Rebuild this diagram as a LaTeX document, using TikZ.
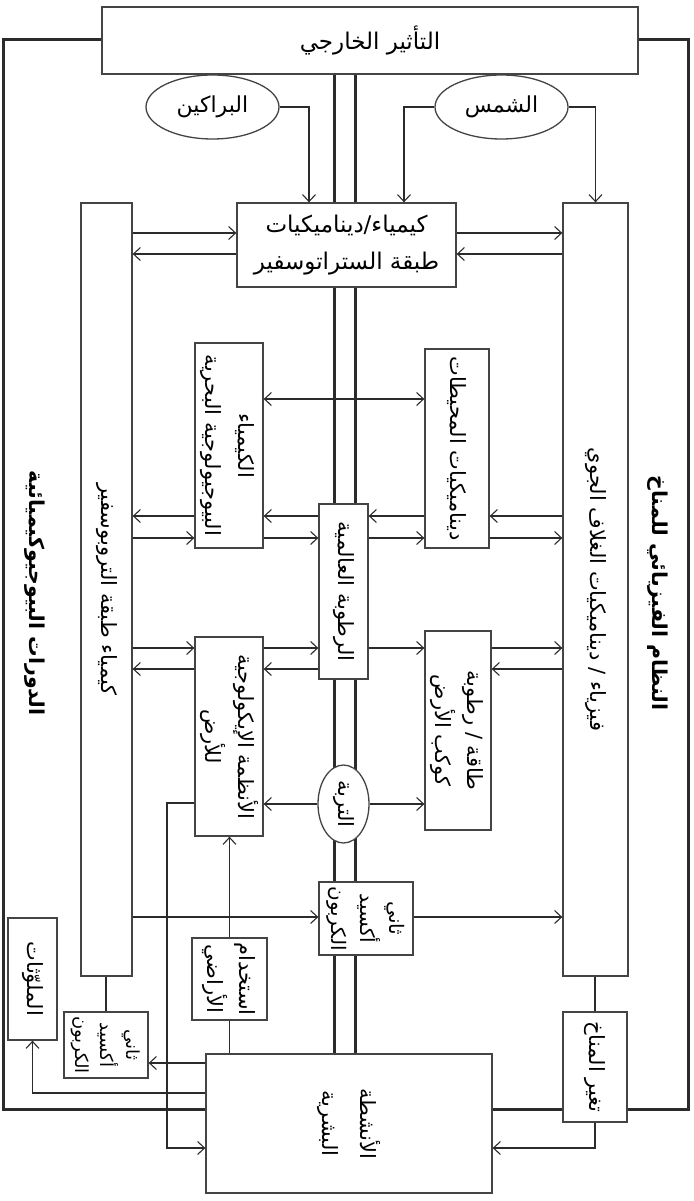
\documentclass[tikz,border=0pt]{standalone}
\usepackage{fontspec}
\usepackage{graphicx}
\usetikzlibrary{arrows.meta,shapes.geometric,backgrounds}
\TeXXeTstate=1
\newfontfamily\arabicfont[Script=Arabic]{DejaVu Sans}
\newcommand{\artxt}[1]{{\arabicfont\beginR #1\endR}}
\newcommand{\vtxt}[1]{\rotatebox{-90}{\begin{tabular}{@{}c@{}}#1\end{tabular}}}
\newcommand{\vone}[1]{\rotatebox{-90}{#1}}
\definecolor{ink}{HTML}{2B2B2B}
\definecolor{boxline}{HTML}{444444}
\tikzset{
  box/.style={draw=boxline, fill=white, line width=1.3pt, inner sep=0pt, rectangle, font=\fontsize{21}{33}\selectfont},
  oval/.style={box, ellipse},
  conn/.style={draw=ink, line width=1.1pt},
  arr/.style={conn, -{Straight Barb[length=7pt,width=13pt]}},
  arrr/.style={conn, {Straight Barb[length=7pt,width=13pt]}-{Straight Barb[length=7pt,width=13pt]}},
  thickln/.style={draw=ink, line width=3pt},
  sidelbl/.style={inner sep=0pt, font=\fontsize{20.5}{24}\selectfont\bfseries},
}
\begin{document}
\begin{tikzpicture}[x=1pt,y=-1pt]
\useasboundingbox (0,0) rectangle (693,1201);
% helper coordinates
\coordinate (cA) at (309,0);
\coordinate (cB) at (404,0);
\coordinate (cX) at (167,0);
\coordinate (cP) at (334,0);
\coordinate (cQ) at (355,0);
\coordinate (r233) at (0,233);
\coordinate (r254) at (0,254);
\coordinate (r399) at (0,399);
\coordinate (r516) at (0,516);
\coordinate (r538) at (0,538);
\coordinate (r648) at (0,648);
\coordinate (r669) at (0,669);
\coordinate (r803) at (0,803);
\coordinate (r917) at (0,917);
\coordinate (r1063) at (0,1063);
\coordinate (r1093) at (0,1093);
\coordinate (r1148) at (0,1148);

% nodes
\node[box, minimum width=536pt, minimum height=67pt, font=\fontsize{23}{30}\selectfont] (ext) at (370,40.5) {\artxt{التأثير الخارجي}};
\node[oval, minimum width=133pt, minimum height=64pt, font=\fontsize{22}{30}\selectfont] (volc) at (212.5,107) {\artxt{البراكين}};
\node[oval, minimum width=133pt, minimum height=64pt, font=\fontsize{22}{30}\selectfont] (sun) at (501.5,107) {\artxt{الشمس}};
\node[box, minimum width=219pt, minimum height=84pt, align=center, font=\fontsize{23}{37}\selectfont] (strat) at (346.5,245) {\artxt{كيمياء/ديناميكيات}\\\artxt{طبقة الستراتوسفير}};
\node[box, minimum width=51pt, minimum height=773pt] (tropo) at (106.5,589.5) {\vone{\artxt{كيمياء طبقة التروبوسفير}}};
\node[box, minimum width=65pt, minimum height=773pt] (atmos) at (595.5,589.5) {\vone{\artxt{فيزياء / ديناميكيات الغلاف الجوي}}};
\node[box, minimum width=68pt, minimum height=205pt] (bio) at (229,445.5) {\vtxt{\artxt{الكيمياء}\\\artxt{البيوجيولوجية البحرية}}};
\node[box, minimum width=64pt, minimum height=199pt] (ocean) at (457,448.5) {\vone{\artxt{ديناميكيات المحيطات}}};
\node[box, minimum width=49pt, minimum height=175pt] (humid) at (343.5,591.5) {\vone{\artxt{الرطوبة العالمية}}};
\node[box, minimum width=68pt, minimum height=199pt] (land) at (229,736.5) {\vtxt{\artxt{الأنظمة الإيكولوجية}\\\artxt{للأرض}}};
\node[box, minimum width=66pt, minimum height=199pt, font=\fontsize{21}{32}\selectfont] (energy) at (458,730.5) {\vtxt{\artxt{طاقة / رطوبة}\\\artxt{كوكب الأرض}}};
\node[oval, minimum width=51pt, minimum height=78pt] (soil) at (343.5,804) {\vone{\artxt{التربة}}};
\node[box, minimum width=94pt, minimum height=73pt, font=\fontsize{20}{29}\selectfont] (co2c) at (366,918.5) {\vtxt{\artxt{ثاني}\\\artxt{أكسيد}\\\artxt{الكربون}}};
\node[box, minimum width=75pt, minimum height=82pt, font=\fontsize{21}{32}\selectfont] (landuse) at (229.5,979) {\vtxt{\artxt{استخدام}\\\artxt{الأراضي}}};
\node[box, minimum width=84pt, minimum height=66pt, font=\fontsize{18}{25}\selectfont] (co2l) at (106,1045) {\vtxt{\artxt{ثاني}\\\artxt{أكسيد}\\\artxt{الكربون}}};
\node[box, minimum width=49pt, minimum height=122pt] (poll) at (32.5,979) {\vone{\artxt{الملوّثات}}};
\node[box, minimum width=286pt, minimum height=139pt, font=\fontsize{21}{38}\selectfont] (human) at (349,1123.5) {\vtxt{\artxt{الأنشطة}\\\artxt{البشرية}}};
\node[box, minimum width=64pt, minimum height=110pt] (climate) at (595,1067) {\vone{\artxt{تغير المناخ}}};
\node[sidelbl] (phys) at (658,593) {\vone{\artxt{النظام الفيزيائي للمناخ}}};
\node[sidelbl] (biog) at (35,593) {\vone{\artxt{الدورات البيوجيوكيميائية}}};

% frame and central double line
\begin{scope}[on background layer]
\draw[thickln] (3,40) rectangle (688,1109);
\draw[thickln] (cP |- ext.south) -- (cP |- human.north);
\draw[thickln] (cQ |- ext.south) -- (cQ |- human.north);
\end{scope}

% connectors
\draw[arr] (volc.east) -| (cA |- strat.north);
\draw[arr] (sun.west) -| (cB |- strat.north);
\draw[arr] (sun.east) -| (atmos.north);

\draw[arr] (tropo.east |- r233) -- (strat.west |- r233);
\draw[arr] (strat.east |- r233) -- (atmos.west |- r233);
\draw[arr] (strat.west |- r254) -- (tropo.east |- r254);
\draw[arr] (atmos.west |- r254) -- (strat.east |- r254);

\draw[arrr] (bio.east |- r399) -- (ocean.west |- r399);

\draw[arr] (bio.west |- r516) -- (tropo.east |- r516);
\draw[arr] (humid.west |- r516) -- (bio.east |- r516);
\draw[arr] (ocean.west |- r516) -- (humid.east |- r516);
\draw[arr] (atmos.west |- r516) -- (ocean.east |- r516);
\draw[arr] (tropo.east |- r538) -- (bio.west |- r538);
\draw[arr] (bio.east |- r538) -- (humid.west |- r538);
\draw[arr] (humid.east |- r538) -- (ocean.west |- r538);
\draw[arr] (ocean.east |- r538) -- (atmos.west |- r538);

\draw[arr] (tropo.east |- r648) -- (land.west |- r648);
\draw[arr] (land.east |- r648) -- (humid.west |- r648);
\draw[arr] (humid.east |- r648) -- (energy.west |- r648);
\draw[arr] (energy.east |- r648) -- (atmos.west |- r648);
\draw[arr] (land.west |- r669) -- (tropo.east |- r669);
\draw[arr] (humid.west |- r669) -- (land.east |- r669);
\draw[arr] (atmos.west |- r669) -- (energy.east |- r669);

\draw[arr] (soil.west) -- (soil.west -| land.east);
\draw[arr] (soil.east) -- (soil.east -| energy.west);
\draw[arr] (land.west |- r803) -| (cX |- r1148) -- (human.west |- r1148);
\draw[arr] (landuse.north) -- (landuse.north |- land.south);
\draw[conn] (landuse.south) -- (landuse.south |- human.north);

\draw[arr] (tropo.east |- r917) -- (co2c.west |- r917);
\draw[arr] (co2c.east |- r917) -- (atmos.west |- r917);
\draw[conn] (co2l.north) -- (co2l.north |- tropo.south);
\draw[arr] (human.west |- r1063) -- (co2l.east |- r1063);
\draw[arr] (human.west |- r1093) -| (poll.south);
\draw[conn] (climate.north) -- (climate.north |- atmos.south);
\draw[arr] (climate.south) |- (human.east |- r1148);
\end{tikzpicture}
\end{document}
